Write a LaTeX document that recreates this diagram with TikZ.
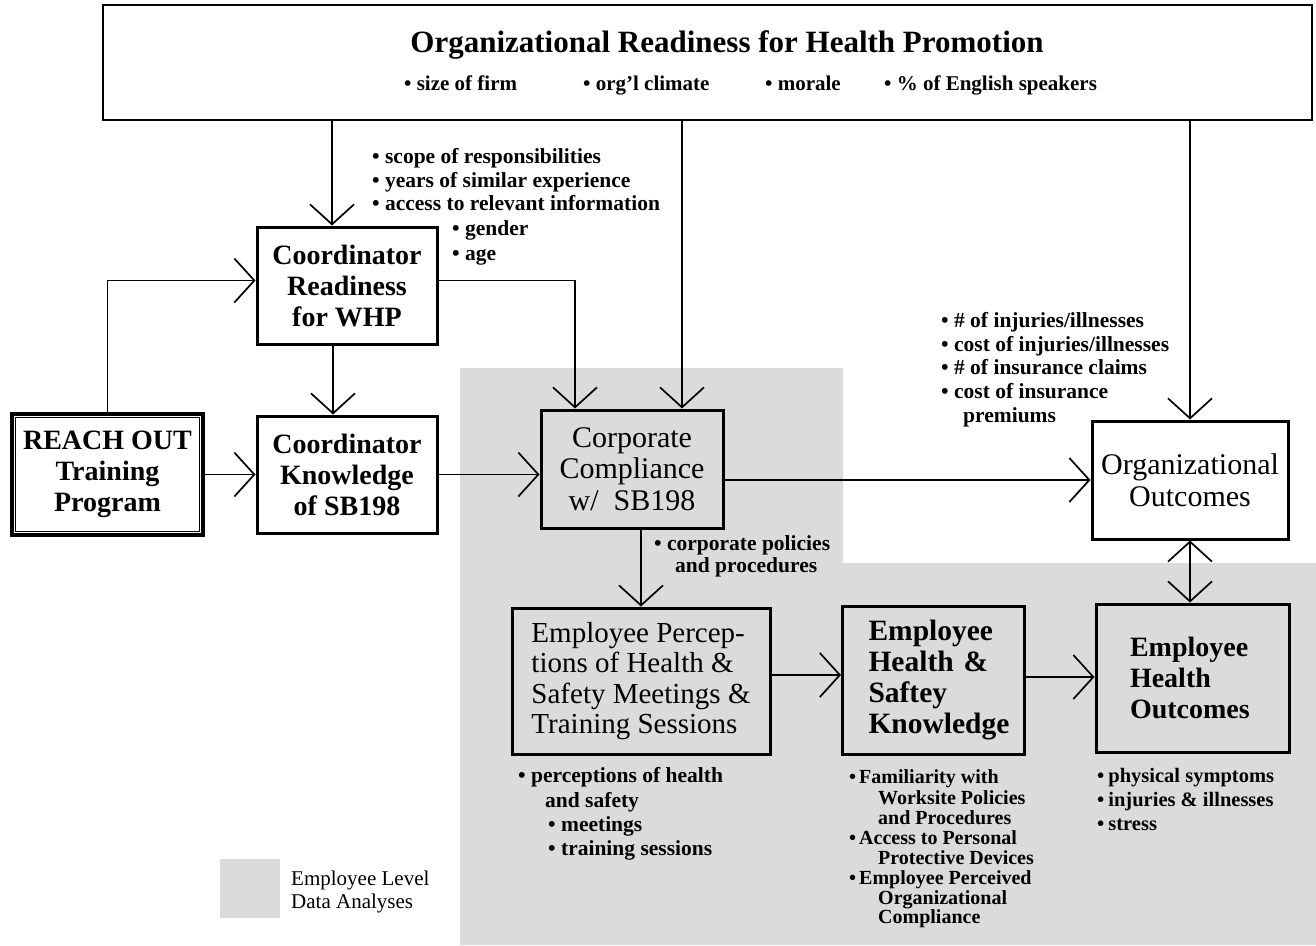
\documentclass[tikz,border=0pt]{standalone}
\usepackage{fontspec}
\setmainfont{Liberation Serif}
\usetikzlibrary{arrows.meta,calc}
\definecolor{empgray}{gray}{0.86}
\begin{document}
\begin{tikzpicture}[x=1pt,y=-1pt,
  >={Straight Barb[length=20pt,width=44pt]},
  conn/.style={line width=1.7pt,->},
  box/.style={draw,line width=3pt,inner sep=0pt,align=center},
  bft/.style={font=\bfseries\fontsize{28}{31}\selectfont},
  rmt/.style={font=\fontsize{30}{31.5}\selectfont},
  lbl/.style={inner sep=0pt,anchor=base west,font=\bfseries\fontsize{21.5}{23}\selectfont},
  slbl/.style={inner sep=0pt,anchor=base west,font=\bfseries\fontsize{20}{20}\selectfont},
  leg/.style={inner sep=0pt,anchor=base west,font=\fontsize{21}{23}\selectfont},
]
\fill[white] (0,0) rectangle (1316,945);
\useasboundingbox (0,0) rectangle (1316,945);
% employee level region
\fill[empgray] (460,368) -- (843,368) -- (843,563) -- (1316,563) -- (1316,945) -- (460,945) -- cycle;
\fill[empgray] (220,859) rectangle (280,918);
\node[leg] (leg1) at (291,885) {Employee Level};
\node[leg] (leg2) at (291,908) {Data Analyses};

% top box
\node[draw,line width=2.5pt,inner sep=0pt,minimum width=1209pt,minimum height=115pt] (org) at (707.5,62.5) {};
\node[anchor=base,inner sep=0pt,font=\bfseries\fontsize{31}{31}\selectfont] (title) at (727,52) {Organizational Readiness for Health Promotion};
\node[lbl,font=\bfseries\fontsize{21}{23}\selectfont] (t1) at (404,90) {\textbullet\ size of firm};
\node[lbl,font=\bfseries\fontsize{21}{23}\selectfont] (t2) at (583,90) {\textbullet\ org'l climate};
\node[lbl,font=\bfseries\fontsize{21}{23}\selectfont] (t3) at (765,90) {\textbullet\ morale};
\node[lbl,font=\bfseries\fontsize{21}{23}\selectfont] (t4) at (884,90) {\textbullet\ \% of English speakers};

% boxes
\node[box,bft,line width=4.5pt,minimum width=191pt,minimum height=121pt] (reach) at (107.5,474.5) {REACH OUT\\Training\\Program};
\draw[line width=1.3pt] ([shift={(6,6)}]reach.north west) rectangle ([shift={(-6,-6)}]reach.south east);
\node[box,bft,minimum width=180pt,minimum height=117pt] (readiness) at (347,285.5) {Coordinator\\Readiness\\for WHP};
\node[box,bft,minimum width=180pt,minimum height=117pt] (knowledge) at (347,474.5) {Coordinator\\Knowledge\\of SB198};
\node[box,rmt,fill=empgray,minimum width=182pt,minimum height=118pt] (comp) at (632,469) {Corporate\\Compliance\\w/\ \ SB198};
\node[box,font=\fontsize{29}{30.5}\selectfont,fill=empgray,minimum width=258pt,minimum height=146pt,align=left] (percep) at (641,681) {Employee Percep-\\tions of Health \&\\Safety Meetings \&\\Training Sessions};
\node[box,bft,font=\bfseries\fontsize{29.5}{31}\selectfont,fill=empgray,minimum width=181pt,minimum height=148pt,align=left,text width=130pt,inner xsep=26pt] (hsk) at (933.5,680) {Employee\\Health \&\\Saftey\\Knowledge};
\node[box,bft,fill=empgray,minimum width=193pt,minimum height=148pt,align=left,text width=125pt,inner xsep=34pt] (ho) at (1192.5,678) {Employee\\Health\\Outcomes};
\node[box,rmt,fill=white,minimum width=196pt,minimum height=118pt] (oo) at (1190,480) {Organizational\\Outcomes};

% labels
\node[lbl] (r1) at (372,163) {\textbullet\ scope of responsibilities};
\node[lbl] (r2) at (372,187) {\textbullet\ years of similar experience};
\node[lbl] (r3) at (372,210) {\textbullet\ access to relevant information};
\node[lbl] (r4) at (452,235) {\textbullet\ gender};
\node[lbl] (r5) at (452,260) {\textbullet\ age};

\node[lbl] (o1) at (941,327) {\textbullet\ \# of injuries/illnesses};
\node[lbl] (o2) at (941,351) {\textbullet\ cost of injuries/illnesses};
\node[lbl] (o3) at (941,374) {\textbullet\ \# of insurance claims};
\node[lbl] (o4) at (941,398) {\textbullet\ cost of insurance};
\node[lbl] (o5) at (963,422) {premiums};

\node[lbl] (c1) at (654,550) {\textbullet\ corporate policies};
\node[lbl] (c2) at (675,572) {and procedures};

\node[lbl] (p1) at (518,782) {\textbullet\ perceptions of health};
\node[lbl] (p2) at (545,807) {and safety};
\node[lbl] (p3) at (548,831) {\textbullet\ meetings};
\node[lbl] (p4) at (548,855) {\textbullet\ training sessions};

\node[slbl] (k1) at (849,783) {\textbullet\kern3pt Familiarity with};
\node[slbl] (k2) at (878,804) {Worksite Policies};
\node[slbl] (k3) at (878,824) {and Procedures};
\node[slbl] (k4) at (849,844) {\textbullet\kern3pt Access to Personal};
\node[slbl] (k5) at (878,864) {Protective Devices};
\node[slbl] (k6) at (849,884) {\textbullet\kern3pt Employee Perceived};
\node[slbl] (k7) at (878,904) {Organizational};
\node[slbl] (k8) at (878,923) {Compliance};

\node[lbl,font=\bfseries\fontsize{20.5}{23}\selectfont] (h1) at (1097,782) {\textbullet\kern4pt physical symptoms};
\node[lbl,font=\bfseries\fontsize{20.5}{23}\selectfont] (h2) at (1097,806) {\textbullet\kern4pt injuries \& illnesses};
\node[lbl,font=\bfseries\fontsize{20.5}{23}\selectfont] (h3) at (1097,830) {\textbullet\kern4pt stress};

% connectors
\draw[conn] ([xshift=-15pt]readiness.north |- org.south) -- ([xshift=-15pt]readiness.north);
\draw[conn] ([xshift=50pt]comp.north |- org.south) -- ([xshift=50pt]comp.north);
\draw[conn] (oo.north |- org.south) -- (oo.north);
\draw[conn] ([yshift=5pt]readiness.east) -| ([xshift=-57pt]comp.north);
\draw[conn] (reach.north) |- ([yshift=5pt]readiness.west);
\draw[conn] (reach.east) -- (reach.east -| knowledge.west);
\draw[conn] ([xshift=-14pt]readiness.south) -- ([xshift=-14pt]knowledge.north);
\draw[conn] (knowledge.east) -- (knowledge.east -| comp.west);
\draw[conn] (comp.east |- oo.west) -- (oo.west);
\draw[conn] (percep.north |- comp.south) -- (percep.north);
\draw[conn] ([yshift=6pt]percep.east) -- ([yshift=6pt]percep.east -| hsk.west);
\draw[conn] ([yshift=3pt]hsk.east) -- ([yshift=3pt]hsk.east -| ho.west);
\draw[line width=1.7pt,<->] (oo.south) -- (oo.south |- ho.north);
\end{tikzpicture}
\end{document}
